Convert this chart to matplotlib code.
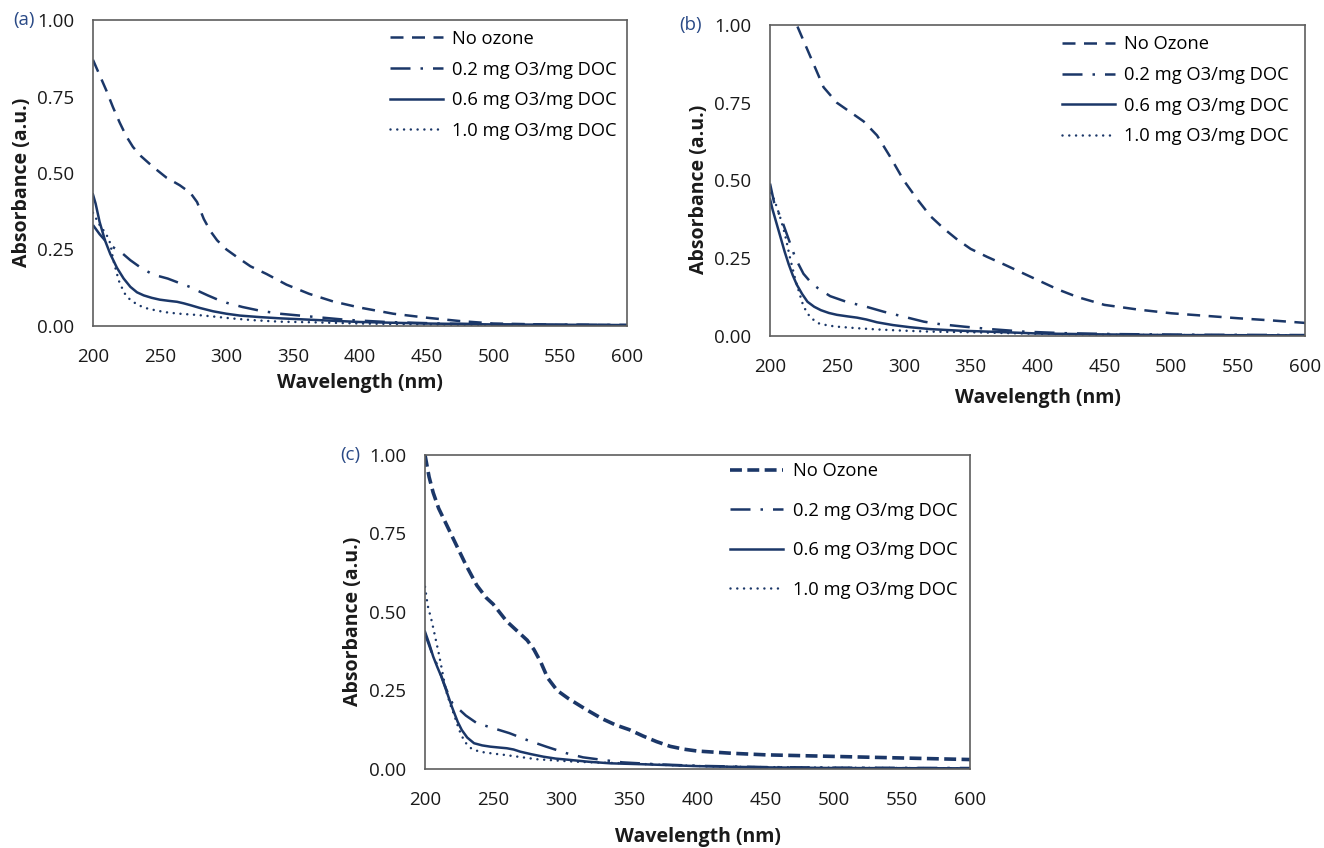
import matplotlib
matplotlib.use("Agg")
import matplotlib.pyplot as plt

plt.rcParams["font.family"] = ["Open Sans", "DejaVu Sans"]

NAVY = "#1b3768"
LABELS_A = ["No ozone", "0.2 mg O3/mg DOC", "0.6 mg O3/mg DOC", "1.0 mg O3/mg DOC"]
LABELS_BC = ["No Ozone", "0.2 mg O3/mg DOC", "0.6 mg O3/mg DOC", "1.0 mg O3/mg DOC"]
XTICKS = [200, 250, 300, 350, 400, 450, 500, 550, 600]
YTICKS = [0.0, 0.25, 0.5, 0.75, 1.0]

# ---- panel (a) ----
wl_a_none = [200,205,210,215,220,225,230,236,245,255,265,273,278,283,288,293,300,308,318,330,345,362,380,400,425,450,475,500,550,600]
ab_a_none = [0.87,0.82,0.77,0.715,0.665,0.62,0.585,0.555,0.52,0.485,0.46,0.435,0.405,0.35,0.31,0.28,0.25,0.225,0.195,0.17,0.135,0.105,0.08,0.06,0.04,0.027,0.016,0.008,0.004,0.003]
wl_a_02 = [200,205,212,220,228,236,245,256,265,273,280,286,293,300,312,325,340,365,390,420,460,500,600]
ab_a_02 = [0.33,0.30,0.265,0.245,0.215,0.19,0.168,0.155,0.14,0.127,0.112,0.1,0.087,0.076,0.062,0.05,0.04,0.03,0.02,0.013,0.008,0.005,0.003]
wl_a_06 = [200,202,205,209,213,218,223,228,233,238,244,250,257,263,268,273,280,290,300,310,325,340,365,400,450,500,600]
ab_a_06 = [0.43,0.40,0.34,0.28,0.235,0.19,0.155,0.128,0.11,0.1,0.092,0.086,0.082,0.079,0.074,0.068,0.059,0.048,0.04,0.034,0.029,0.025,0.02,0.013,0.008,0.005,0.003]
wl_a_10 = [200,205,210,213,215,218,220,224,228,234,240,248,256,265,278,290,303,320,340,365,400,450,500,600]
ab_a_10 = [0.37,0.33,0.30,0.27,0.22,0.17,0.14,0.105,0.085,0.068,0.058,0.05,0.044,0.04,0.036,0.031,0.025,0.019,0.014,0.012,0.008,0.005,0.003,0.002]

# ---- panel (b) ----
wl_b_none = [215,220,230,240,250,260,270,280,290,300,310,320,330,340,350,362,375,390,400,415,430,450,475,500,525,550,575,600]
ab_b_none = [1.06,1.0,0.9,0.8,0.75,0.72,0.69,0.645,0.575,0.5,0.44,0.385,0.345,0.31,0.28,0.255,0.23,0.2,0.18,0.15,0.125,0.1,0.085,0.073,0.065,0.057,0.05,0.042]
wl_b_02 = [200,203,209,214,219,225,231,236,245,257,272,285,300,315,327,345,365,390,420,460,520,600]
ab_b_02 = [0.49,0.43,0.37,0.31,0.25,0.2,0.17,0.153,0.128,0.11,0.094,0.078,0.062,0.046,0.038,0.03,0.022,0.014,0.009,0.006,0.004,0.003]
wl_b_06 = [200,202,205,208,211,214,217,220,224,228,233,238,244,250,258,265,272,280,292,305,320,342,370,400,450,500,600]
ab_b_06 = [0.44,0.405,0.36,0.315,0.27,0.23,0.195,0.165,0.135,0.11,0.094,0.083,0.074,0.068,0.063,0.059,0.053,0.044,0.035,0.028,0.022,0.017,0.013,0.008,0.005,0.003,0.002]
wl_b_10 = [200,203,207,211,215,219,222,225,230,236,243,250,265,280,300,320,350,400,450,500,600]
ab_b_10 = [0.46,0.44,0.39,0.33,0.25,0.18,0.137,0.095,0.06,0.041,0.034,0.03,0.025,0.021,0.017,0.014,0.012,0.007,0.004,0.003,0.002]

# ---- panel (c) ----
wl_c_none = [200,203,206,210,215,220,225,230,238,245,250,260,270,275,280,285,290,297,305,318,330,340,350,360,370,380,390,400,425,450,500,550,600]
ab_c_none = [1.0,0.93,0.88,0.83,0.785,0.74,0.695,0.65,0.585,0.545,0.525,0.47,0.43,0.41,0.38,0.34,0.29,0.25,0.225,0.19,0.16,0.14,0.125,0.105,0.087,0.072,0.063,0.057,0.05,0.045,0.04,0.035,0.03]
wl_c_02 = [200,205,210,215,220,225,230,238,250,262,275,289,304,316,330,345,370,400,450,500,600]
ab_c_02 = [0.43,0.37,0.32,0.26,0.21,0.19,0.17,0.146,0.13,0.114,0.092,0.071,0.05,0.037,0.029,0.021,0.015,0.01,0.006,0.004,0.003]
wl_c_06 = [200,203,206,209,212,216,220,224,227,231,236,242,248,255,260,265,270,278,287,296,306,320,336,360,400,450,500,600]
ab_c_06 = [0.437,0.4,0.358,0.325,0.294,0.245,0.195,0.15,0.124,0.1,0.082,0.075,0.071,0.068,0.066,0.062,0.055,0.047,0.039,0.033,0.029,0.023,0.018,0.015,0.009,0.005,0.003,0.002]
wl_c_10 = [200,202,205,207,210,212,214,216,219,221,225,229,234,240,250,258,270,282,296,311,330,348,380,420,500,600]
ab_c_10 = [0.58,0.52,0.47,0.43,0.37,0.326,0.28,0.241,0.2,0.177,0.125,0.087,0.065,0.055,0.049,0.045,0.038,0.031,0.027,0.023,0.02,0.018,0.012,0.007,0.004,0.002]


def draw(ax, series, labels, tag, tag_x, none_style, leg_xy, leg_space, xlab_y):
    lw = 1.8
    styles = [none_style,
              dict(lw=lw, dashes=(8, 4, 1, 4)),
              dict(lw=lw, ls="-"),
              dict(lw=lw, dashes=(0.01, 2.7), dash_capstyle="round")]
    for (x, y), lab, st in zip(series, labels, styles):
        ax.plot(x, y, color=NAVY, label=lab, **st)
    ax.set_xlim(200, 600); ax.set_ylim(0, 1)
    ax.set_xticks(XTICKS); ax.set_yticks(YTICKS)
    ax.set_yticklabels([f"{v:.2f}" for v in YTICKS])
    ax.tick_params(length=0, labelsize=13.5, colors="#1a1a1a")
    ax.tick_params(axis="x", pad=16); ax.tick_params(axis="y", pad=13.5)
    for s in ax.spines.values():
        s.set_color("#5e5e5e"); s.set_linewidth(1.2)
    ax.set_xlabel("Wavelength (nm)", fontsize=14, fontweight="bold", color="#1a1a1a")
    ax.xaxis.label.set_va("center"); ax.xaxis.set_label_coords(0.5, xlab_y)
    ax.set_ylabel("Absorbance (a.u.)", fontsize=14, fontweight="bold", color="#1a1a1a")
    ax.yaxis.label.set_va("center"); ax.yaxis.set_label_coords(-0.133, 0.47)
    ax.legend(loc="center left", bbox_to_anchor=leg_xy, frameon=False, fontsize=13.2,
              handlelength=2.9, handletextpad=0.5, labelspacing=leg_space,
              borderpad=0, borderaxespad=0)
    ax.text(tag_x, 1.0, tag, transform=ax.transAxes, ha="right", va="center",
            fontsize=13.5, color="#2a4a86")


fig = plt.figure(figsize=(13.24, 8.48), dpi=100)
ax_a = fig.add_axes([0.0702, 0.6156, 0.4033, 0.3608])
ax_b = fig.add_axes([0.5816, 0.6038, 0.4041, 0.3667])
ax_c = fig.add_axes([0.3210, 0.0932, 0.4116, 0.3703])

draw(ax_a, [(wl_a_none, ab_a_none), (wl_a_02, ab_a_02), (wl_a_06, ab_a_06), (wl_a_10, ab_a_10)],
     LABELS_A, "(a)", -0.109, dict(lw=1.8, dashes=(5.2, 3.4)), (0.556, 0.788), 0.69, -0.185)
draw(ax_b, [(wl_b_none, ab_b_none), (wl_b_02, ab_b_02), (wl_b_06, ab_b_06), (wl_b_10, ab_b_10)],
     LABELS_BC, "(b)", -0.127, dict(lw=1.8, dashes=(5.2, 3.4)), (0.546, 0.79), 0.69, -0.198)
draw(ax_c, [(wl_c_none, ab_c_none), (wl_c_02, ab_c_02), (wl_c_06, ab_c_06), (wl_c_10, ab_c_10)],
     LABELS_BC, "(c)", -0.119, dict(lw=2.6, dashes=(3.3, 1.5)), (0.56, 0.759), 1.17, -0.218)

fig.savefig("out.png", dpi=100)
